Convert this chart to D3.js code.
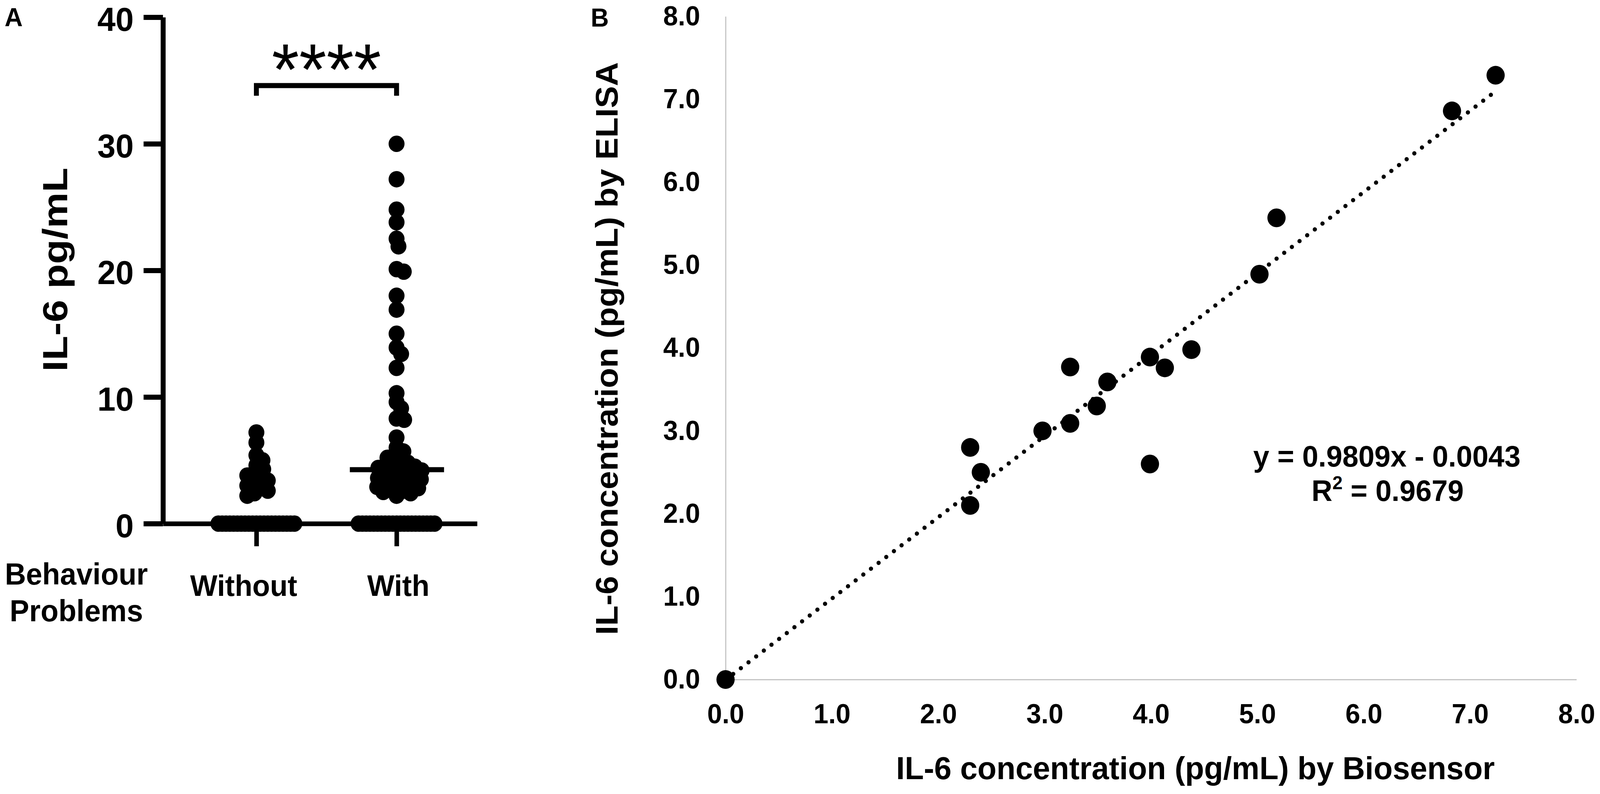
<!DOCTYPE html>
<html>
<head>
<meta charset="utf-8">
<script src="https://cdn.jsdelivr.net/npm/d3@7"></script>
<style>
  html, body { margin: 0; padding: 0; background: #fff; overflow: hidden; }
  svg { display: block; width: 100vw; height: 100vh; }
  text { font-family: "Liberation Sans", Arial, Helvetica, sans-serif; fill: #000; }
</style>
</head>
<body>
<svg id="fig" viewBox="0 0 4212 2032" preserveAspectRatio="none"></svg>
<script>

// ---- Panel A data: IL-6 pg/mL by behaviour problems ----
const groupNames = ["Without", "With"];
const withoutValues = [7.2, 6.4, 5.4, 5.0, 4.6, 4.3, 4.0, 3.8, 3.6, 3.4, 3.2, 3.0, 2.8, 2.6, 2.4, 2.2];
const withValues = [30.0, 27.2, 24.8, 23.8, 22.5, 21.9, 20.1, 19.9, 18.0, 16.9,
    15.0, 13.9, 13.4, 12.3, 10.3, 9.6, 9.1, 8.3, 8.2, 6.8, 6.0,
    5.7, 5.4, 5.2, 5.0, 4.8, 4.7, 4.6, 4.5, 4.4, 4.3, 4.2, 4.1, 4.0, 3.9, 3.8, 3.7, 3.6,
    3.5, 3.4, 3.3, 3.2, 3.1, 3.0, 2.9, 2.8, 2.7, 2.6, 2.5, 2.4, 2.2];
const zeroCounts = {Without: 21, With: 21};   // values at 0 (the thick band on the axis)
const withMedian = 4.26;
const aTicks = [0, 10, 20, 30, 40];
const bracketLevel = [34.6, 33.8];   // bar height, leg end
const significance = "****";

// ---- Panel B data: biosensor vs ELISA ----
const biosensor = [0, 2.3, 2.3, 2.4, 2.98, 3.24, 3.24, 3.49, 3.59, 3.99, 3.99, 4.13, 4.38, 5.02, 5.18, 6.83, 7.24];
const elisa     = [0, 2.8, 2.1, 2.5, 3.00, 3.77, 3.09, 3.30, 3.59, 3.89, 2.60, 3.76, 3.98, 4.89, 5.57, 6.86, 7.29];
const bTicks = [0, 1, 2, 3, 4, 5, 6, 7, 8];
const fitSlope = 0.9809;
const fitIntercept = -0.0043;
const fitRange = [0, 7.21];
const equationLines = ["y = 0.9809x - 0.0043", "R2 = 0.9679"];

const svg = d3.select("#fig");
svg.append("rect").attr("width", 4212).attr("height", 2032).attr("fill", "#fff");

// simple beeswarm: nearest free horizontal offset for each point,
// tied values are packed tighter so they merge into a band
function swarm(values, yScale, minDist, tieDist) {
    const placed = [];
    values.forEach(v => {
        const py = yScale(v);
        for (let k = 0; k < 2000; k++) {
            const dx = k === 0 ? 0 : (k % 2 ? Math.ceil(k / 2) : -k / 2);
            const ok = placed.every(p => {
                const ddy = py - p.py, ddx = dx - p.dx;
                const need = ddy === 0 ? tieDist : minDist;
                return ddx * ddx + ddy * ddy >= need * need;
            });
            if (ok) { placed.push({v: v, py: py, dx: dx}); break; }
        }
    });
    return placed;
}

// =============== Panel A ===============
const yA = d3.scaleLinear().domain([0, 40]).range([1340, 44]);
const xA = d3.scalePoint().domain(groupNames).range([429, 1256]).padding(0.6206).align(0.537);

const gA = svg.append("g");

const yAxisA = gA.append("g")
    .attr("transform", "translate(429,0)")
    .call(d3.axisLeft(yA).tickValues(aTicks).tickSize(51).tickSizeOuter(0).tickPadding(26));
yAxisA.selectAll("path, line").attr("stroke", "#000").attr("stroke-width", 13);
yAxisA.selectAll("text").attr("font-size", 86).attr("font-weight", "bold").attr("dy", "0.4em");

const xAxisA = gA.append("g")
    .attr("transform", `translate(0,${yA(0)})`)
    .call(d3.axisBottom(xA).tickSize(58).tickSizeOuter(0).tickPadding(73));
xAxisA.select(".domain").attr("stroke", "#000").attr("stroke-width", 12);
xAxisA.selectAll(".tick line").attr("stroke", "#000").attr("stroke-width", 12);
xAxisA.selectAll("text")
    .attr("font-size", 76).attr("font-weight", "bold")
    .attr("dx", d => d === "Without" ? -34 : 4);

gA.append("text")
    .attr("transform", "translate(177,690) rotate(-90)")
    .attr("text-anchor", "middle")
    .attr("font-size", 92).attr("font-weight", "bold")
    .attr("textLength", 522).attr("lengthAdjust", "spacingAndGlyphs")
    .text("IL-6 pg/mL");

gA.append("text").attr("x", 201).attr("y", 1496).attr("text-anchor", "middle")
    .attr("font-size", 77).attr("font-weight", "bold").text("Behaviour");
gA.append("text").attr("x", 201).attr("y", 1590).attr("text-anchor", "middle")
    .attr("font-size", 77).attr("font-weight", "bold").text("Problems");

// dots
const groups = [["Without", withoutValues], ["With", withValues]];
groups.forEach(([name, vals]) => {
    const all = vals.concat(d3.range(zeroCounts[name]).map(() => 0));
    const pts = swarm(all, yA, 20, 9.8);
    gA.append("g").selectAll("circle")
        .data(pts)
        .join("circle")
        .attr("cx", d => xA(name) + d.dx)
        .attr("cy", d => d.py)
        .attr("r", 21)
        .attr("fill", "#000");
});

// median
gA.append("line")
    .attr("x1", xA("With") - 123).attr("x2", xA("With") + 125)
    .attr("y1", yA(withMedian)).attr("y2", yA(withMedian))
    .attr("stroke", "#000").attr("stroke-width", 13);

// significance bracket
gA.append("path")
    .attr("d", `M${xA("Without")},${yA(bracketLevel[1])}V${yA(bracketLevel[0])}H${xA("With")}V${yA(bracketLevel[1])}`)
    .attr("fill", "none").attr("stroke", "#000").attr("stroke-width", 13);
gA.append("text")
    .attr("x", (xA("Without") + xA("With")) / 2).attr("y", 242)
    .attr("text-anchor", "middle").attr("font-size", 185)
    .text(significance);

gA.append("text").attr("x", 12).attr("y", 67)
    .attr("font-size", 66).attr("font-weight", "bold").text("A");

// =============== Panel B ===============
const xB = d3.scaleLinear().domain([0, 8]).range([1910, 4150]);
const yB = d3.scaleLinear().domain([0, 8]).range([1739, 42]);
const gB = svg.append("g");

const yAxisB = gB.append("g")
    .attr("transform", `translate(${xB(0)},0)`)
    .call(d3.axisLeft(yB).tickValues(bTicks).tickFormat(d3.format(".1f"))
        .tickSize(0).tickSizeOuter(0).tickPadding(67));
const xAxisB = gB.append("g")
    .attr("transform", `translate(0,${yB(0)})`)
    .call(d3.axisBottom(xB).tickValues(bTicks).tickFormat(d3.format(".1f"))
        .tickSize(0).tickSizeOuter(0).tickPadding(62));
[yAxisB, xAxisB].forEach(ax => {
    ax.select(".domain").attr("stroke", "#c4c4c4").attr("stroke-width", 3);
    ax.selectAll(".tick line").remove();
    ax.selectAll("text").attr("font-size", 70).attr("font-weight", "bold");
});

gB.append("text")
    .attr("transform", "translate(1626,892) rotate(-90)")
    .attr("text-anchor", "middle")
    .attr("font-size", 82).attr("font-weight", "bold")
    .attr("textLength", 1466).attr("lengthAdjust", "spacingAndGlyphs")
    .text("IL-6 concentration (pg/mL) by ELISA");

gB.append("text")
    .attr("x", 3935).attr("y", 1994)
    .attr("text-anchor", "end")
    .attr("font-size", 82).attr("font-weight", "bold")
    .text("IL-6 concentration (pg/mL) by Biosensor");

// regression line (dotted)
const fitLine = d3.line()
    .x(d => xB(d))
    .y(d => yB(fitSlope * d + fitIntercept));
gB.append("path")
    .attr("d", fitLine(fitRange))
    .attr("fill", "none").attr("stroke", "#000").attr("stroke-width", 11)
    .attr("stroke-linecap", "round").attr("stroke-dasharray", "0.1 25");

gB.append("g").selectAll("circle")
    .data(biosensor.map((v, i) => [v, elisa[i]]))
    .join("circle")
    .attr("cx", d => xB(d[0]))
    .attr("cy", d => yB(d[1]))
    .attr("r", 24)
    .attr("fill", "#000");

// equation
const eq = gB.append("g").attr("font-size", 76).attr("font-weight", "bold").attr("text-anchor", "middle");
eq.append("text").attr("x", 3651).attr("y", 1194).text(equationLines[0]);
const r2 = eq.append("text").attr("x", 3653).attr("y", 1282);
r2.append("tspan").text("R");
r2.append("tspan").attr("font-size", 48).attr("dy", -30).text("2");
r2.append("tspan").attr("dy", 30).text(equationLines[1].slice(2));

gB.append("text").attr("x", 1555).attr("y", 68)
    .attr("font-size", 66).attr("font-weight", "bold").text("B");

</script>
</body>
</html>
